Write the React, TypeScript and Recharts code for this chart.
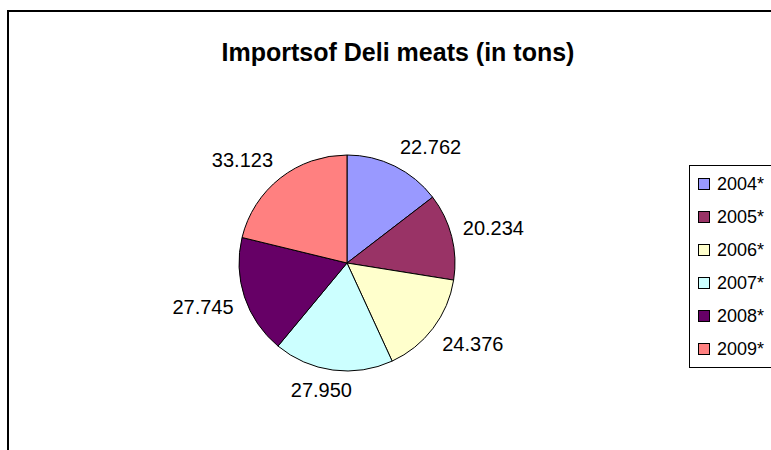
import { Cell, Legend, Pie, PieChart } from "recharts"

const years = ["2004*", "2005*", "2006*", "2007*", "2008*", "2009*"]
const tons = [22.762, 20.234, 24.376, 27.95, 27.745, 33.123]
const colors = ["#9999FF", "#993366", "#FFFFCC", "#CCFFFF", "#660066", "#FF8080"]

const data = years.map((year, i) => ({ name: year, value: tons[i] }))

const FONT = '"Liberation Sans", Arial, sans-serif'
const RAD = Math.PI / 180

const clamp = (v: number) => Math.max(-1, Math.min(1, v))

function renderLabel(props: any) {
  const { cx, cy, midAngle, outerRadius, value } = props
  const ux = Math.cos(midAngle * RAD)
  const uy = -Math.sin(midAngle * RAD)
  const r = outerRadius + 11
  // Excel-like: the label box corner sits just outside the slice midpoint
  const x = cx + r * ux + 31 * clamp(ux / 0.4)
  const y = cy + r * uy + 9 * clamp(uy / 0.4)
  return (
    <text
      x={x}
      y={y}
      textAnchor="middle"
      dominantBaseline="central"
      fontFamily={FONT}
      fontSize={20}
      fill="#000"
    >
      {Number(value).toFixed(3)}
    </text>
  )
}

function LegendBox(props: any) {
  const { payload } = props
  return (
    <div
      style={{
        width: 120,
        height: 203,
        border: "1px solid #000",
        background: "#fff",
        boxSizing: "border-box",
        position: "relative",
      }}
    >
      {(payload || []).map((entry: any, i: number) => (
        <div
          key={entry.value}
          style={{
            position: "absolute",
            left: 8,
            top: 6 + i * 33,
            height: 24,
            display: "flex",
            alignItems: "center",
            fontFamily: FONT,
            fontSize: 18,
            color: "#000",
          }}
        >
          <span
            style={{
              display: "inline-block",
              width: 10,
              height: 10,
              border: "1px solid #000",
              background: entry.color,
              marginRight: 7,
            }}
          />
          {entry.value}
        </div>
      ))}
    </div>
  )
}

export default function App() {
  return (
    <div
      style={{
        position: "absolute",
        left: 0,
        top: 0,
        width: 771,
        height: 450,
        overflow: "hidden",
        background: "#fff",
      }}
    >
      <div
        style={{
          position: "absolute",
          left: 7,
          top: 10,
          width: 800,
          height: 500,
          border: "2px solid #000",
          boxSizing: "border-box",
        }}
      />
      <svg width={771} height={450} style={{ position: "absolute", left: 0, top: 0 }}>
        <text
          x={398}
          y={61}
          textAnchor="middle"
          fontFamily={FONT}
          fontWeight="bold"
          fontSize={25}
          fill="#000"
        >
          Importsof Deli meats (in tons)
        </text>
      </svg>
      <div style={{ position: "absolute", left: 0, top: 0 }}>
        <PieChart width={771} height={450} margin={{ top: 0, right: 0, bottom: 0, left: 0 }}>
          <Pie
            data={data}
            dataKey="value"
            nameKey="name"
            cx={347}
            cy={263}
            outerRadius={108}
            startAngle={90}
            endAngle={-270}
            stroke="#000"
            strokeWidth={1}
            label={renderLabel}
            labelLine={false}
            isAnimationActive={false}
          >
            {data.map((d, i) => (
              <Cell key={d.name} fill={colors[i]} />
            ))}
          </Pie>
          <Legend
            content={<LegendBox />}
            wrapperStyle={{ position: "absolute", left: 689, top: 165, width: 120, bottom: "auto" }}
          />
        </PieChart>
      </div>
    </div>
  )
}
